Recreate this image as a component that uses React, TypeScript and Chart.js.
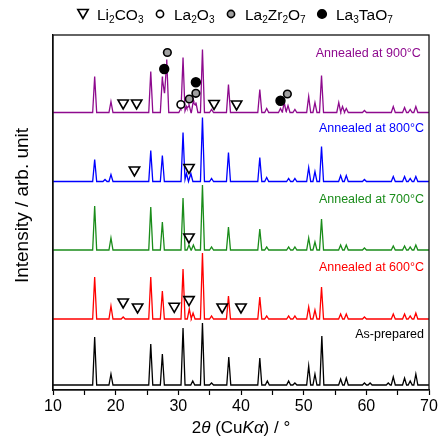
import React, { useEffect, useRef } from 'react';
import { Chart, registerables } from 'chart.js';

Chart.register(...registerables);

const FONT = '"Liberation Sans", Arial, Helvetica, sans-serif';

// ---- axis ----
const X_MIN = 10;
const X_MAX = 70;
const X_STEP_MINOR = 5;
const Y_MIN = 0;
const Y_MAX = 355;

// ---- series ----
const seriesNames = ['As-prepared', 'Annealed at 600°C', 'Annealed at 700°C', 'Annealed at 800°C', 'Annealed at 900°C'];
const seriesColors = ['#000000', '#ff0000', '#1a8c1a', '#0000ff', '#8e0a8e'];
const seriesOffsets = [5, 71, 140, 208.5, 277.5];

// peak lists: [2θ, intensity above baseline]
const peaksAsPrepared: [number, number][] = [
  [16.65, 48], [19.25, 11], [25.6, 41], [27.45, 31], [30.75, 57], [32.3, 4], [33.85, 62], [35.3, 2],
  [38.05, 28], [43.0, 27], [44.2, 4], [47.6, 4], [48.6, 2], [50.8, 19], [51.8, 11], [52.9, 49],
  [55.9, 6], [56.8, 7], [59.7, 2], [60.6, 2], [63.5, 2], [64.3, 8], [66.1, 7], [67.0, 4], [67.9, 11],
];
const peaks600: [number, number][] = [
  [16.65, 42], [19.25, 13], [21.2, 2], [25.6, 42], [27.45, 28], [30.75, 50], [31.75, 10], [32.35, 6],
  [33.85, 66], [35.3, 3], [38.0, 23], [43.0, 22], [44.1, 3], [47.6, 3], [48.6, 3], [50.8, 12],
  [51.8, 9], [52.85, 32], [55.9, 5], [56.8, 5], [59.7, 2], [64.3, 5], [66.1, 5], [67.0, 3], [67.9, 6],
];
const peaks700: [number, number][] = [
  [16.65, 44], [19.25, 12], [25.6, 43], [27.45, 28], [30.75, 52], [31.7, 5], [32.4, 5], [33.85, 65],
  [35.3, 3], [38.0, 23], [43.0, 21], [44.1, 3], [47.6, 3], [48.6, 3], [50.8, 12], [51.8, 8],
  [52.85, 31], [55.9, 5], [56.8, 5], [59.7, 2], [64.3, 4], [66.1, 4], [67.0, 3], [67.9, 5],
];
const peaks800: [number, number][] = [
  [16.65, 22], [18.3, 2], [19.25, 7], [25.6, 31], [27.45, 26], [30.75, 49], [31.3, 8], [32.0, 8],
  [33.85, 64], [35.3, 3], [38.0, 29], [43.0, 24], [44.1, 4], [47.6, 3], [48.6, 3], [50.8, 14],
  [51.8, 10], [52.85, 35], [55.9, 6], [56.8, 6], [59.7, 2], [64.3, 5], [66.1, 5], [67.0, 3], [67.9, 5],
];
const peaks900: [number, number][] = [
  [16.65, 36], [19.25, 11], [25.6, 41], [27.45, 36], [27.8, 22], [28.15, 53], [30.4, 4], [30.75, 55],
  [31.3, 6], [31.7, 8], [32.4, 12], [32.8, 10], [33.85, 63], [35.3, 3], [38.0, 28], [43.0, 23],
  [44.1, 4], [46.3, 4], [46.9, 10], [47.5, 7], [48.6, 3], [50.8, 16], [51.8, 10], [52.85, 37],
  [55.6, 10], [56.2, 6], [56.8, 4], [59.7, 2], [64.3, 6], [66.1, 5], [67.0, 3], [67.9, 6],
];
const seriesPeaks = [peaksAsPrepared, peaks600, peaks700, peaks800, peaks900];
const PEAK_HALF_WIDTH = 0.32;

// ---- phase markers: [2θ, y] ----
const li2co3Markers: [number, number][] = [
  [21.2, 287], [23.35, 287], [35.7, 286.5], [39.3, 286],
  [23.0, 220], [31.7, 222.5],
  [31.7, 153],
  [21.2, 88], [23.5, 83], [29.35, 83.7], [31.7, 90.4], [37.0, 83], [40.0, 83],
];
const la2o3Markers: [number, number][] = [[30.4, 285.5]];
const la2zr2o7Markers: [number, number][] = [[28.25, 337.5], [31.75, 291], [32.8, 296.7], [47.4, 296]];
const la3tao7Markers: [number, number][] = [[27.75, 321], [32.8, 307.7], [46.3, 289.3]];

// ---- labels ----
const seriesLabelX = [69.2, 69.2, 69.2, 69.2, 68.7];
const seriesLabelY = [55, 122, 190, 261, 336];
const legendItems = [
  { kind: 'tri', text: [['Li', 0], ['2', 1], ['CO', 0], ['3', 1]] },
  { kind: 'open', text: [['La', 0], ['2', 1], ['O', 0], ['3', 1]] },
  { kind: 'gray', text: [['La', 0], ['2', 1], ['Zr', 0], ['2', 1], ['O', 0], ['7', 1]] },
  { kind: 'black', text: [['La', 0], ['3', 1], ['TaO', 0], ['7', 1]] },
];
const legendMarkerX = [83, 160, 231, 322];
const xTitle: [string, boolean][] = [['2', false], ['θ', true], [' (Cu', false], ['K', true], ['α', true], [') / °', false]];
const yTitle = 'Intensity / arb. unit';

function buildCurve(peaks: [number, number][], offset: number) {
  const xs = new Set<number>([X_MIN, X_MAX]);
  peaks.forEach(([p]) => { xs.add(p - PEAK_HALF_WIDTH); xs.add(p); xs.add(p + PEAK_HALF_WIDTH); });
  const sorted = Array.from(xs).sort((a, b) => a - b);
  return sorted.map((x) => {
    let y = 0;
    peaks.forEach(([p, h]) => {
      const d = Math.abs(x - p);
      if (d < PEAK_HALF_WIDTH) y += h * (1 - d / PEAK_HALF_WIDTH);
    });
    return { x, y: y + offset };
  });
}

const toPts = (arr: [number, number][]) => arr.map(([x, y]) => ({ x, y }));

function drawSegs(ctx: CanvasRenderingContext2D, segs: any[], x: number, y: number, size: number) {
  let cx = x;
  segs.forEach(([t, sub]) => {
    const s = sub ? size * 0.65 : size;
    ctx.font = `${s}px ${FONT}`;
    ctx.textBaseline = 'alphabetic';
    ctx.fillText(t, cx, sub ? y + size * 0.22 : y);
    cx += ctx.measureText(t).width;
  });
}

const overlay = {
  id: 'overlay',
  afterDraw(chart: any) {
    const ctx: CanvasRenderingContext2D = chart.ctx;
    const { left, right, top, bottom } = chart.chartArea;
    const xs = chart.scales.x;
    const ys = chart.scales.y;
    ctx.save();
    // frame
    ctx.strokeStyle = '#111';
    ctx.lineWidth = 1.3;
    ctx.strokeRect(left, top, right - left, bottom - top);
    // series labels
    ctx.font = `12.5px ${FONT}`;
    ctx.textAlign = 'right';
    ctx.textBaseline = 'middle';
    seriesNames.forEach((n, i) => {
      ctx.fillStyle = seriesColors[i];
      ctx.fillText(n, xs.getPixelForValue(seriesLabelX[i]), ys.getPixelForValue(seriesLabelY[i]));
    });
    // legend
    const ly = 14;
    ctx.textAlign = 'left';
    ctx.fillStyle = '#000';
    legendItems.forEach((it, i) => {
      const mx = legendMarkerX[i];
      ctx.lineWidth = 1.6;
      ctx.strokeStyle = '#000';
      if (it.kind === 'tri') {
        const r = 6;
        ctx.beginPath();
        ctx.moveTo(mx, ly + r * 0.75);
        ctx.lineTo(mx - r * 0.866, ly - r * 0.75);
        ctx.lineTo(mx + r * 0.866, ly - r * 0.75);
        ctx.closePath();
        ctx.fillStyle = '#fff';
        ctx.fill();
        ctx.stroke();
      } else {
        ctx.beginPath();
        ctx.arc(mx, ly, it.kind === 'black' ? 4.3 : 3.6, 0, Math.PI * 2);
        ctx.fillStyle = it.kind === 'open' ? '#fff' : it.kind === 'gray' ? '#a0a0a0' : '#000';
        ctx.fill();
        ctx.stroke();
      }
      ctx.fillStyle = '#000';
      drawSegs(ctx, it.text, mx + 14, ly + 5.5, 15.5);
    });
    // x title
    let total = 0;
    xTitle.forEach(([t, it]) => {
      ctx.font = `${it ? 'italic ' : ''}17px ${FONT}`;
      total += ctx.measureText(t).width;
    });
    let cx = (left + right) / 2 - total / 2;
    ctx.textBaseline = 'middle';
    ctx.fillStyle = '#000';
    xTitle.forEach(([t, it]) => {
      ctx.font = `${it ? 'italic ' : ''}17px ${FONT}`;
      ctx.fillText(t, cx, 428);
      cx += ctx.measureText(t).width;
    });
    // y title
    ctx.translate(23, (top + bottom) / 2 - 7);
    ctx.rotate(-Math.PI / 2);
    ctx.textAlign = 'center';
    ctx.font = `19px ${FONT}`;
    ctx.fillText(yTitle, 0, 0);
    ctx.restore();
  },
};

export default function App() {
  const ref = useRef<HTMLCanvasElement>(null);
  useEffect(() => {
    const lineSets = seriesPeaks.map((p, i) => ({
      type: 'line' as const,
      label: seriesNames[i],
      data: buildCurve(p, seriesOffsets[i]),
      borderColor: seriesColors[i],
      borderWidth: 1.3,
      pointRadius: 0,
      fill: false,
      tension: 0,
      order: 2,
    }));
    const mk = (data: [number, number][], style: string, bg: string, r: number, rot = 0) => ({
      type: 'line' as const,
      data: toPts(data),
      showLine: false,
      pointStyle: style,
      rotation: rot,
      pointRadius: r,
      pointBackgroundColor: bg,
      pointBorderColor: '#000',
      pointBorderWidth: 1.6,
      order: 1,
    });
    const chart = new Chart(ref.current!, {
      type: 'line',
      data: {
        datasets: [
          ...lineSets,
          mk(li2co3Markers, 'triangle', '#fff', 6, 180),
          mk(la2o3Markers, 'circle', '#fff', 3.8),
          mk(la2zr2o7Markers, 'circle', '#a0a0a0', 3.8),
          mk(la3tao7Markers, 'circle', '#000', 4.4),
        ] as any,
      },
      options: {
        responsive: false,
        animation: false,
        layout: { padding: { top: 35, right: 13, left: 0, bottom: 0 } },
        plugins: { legend: { display: false }, tooltip: { enabled: false } },
        scales: {
          x: {
            type: 'linear',
            min: X_MIN,
            max: X_MAX,
            afterFit: (s: any) => { s.height = 52; },
            ticks: {
              stepSize: X_STEP_MINOR,
              autoSkip: false,
              maxRotation: 0,
              padding: 2,
              color: '#000',
              font: { family: FONT, size: 16 },
              callback: (v: any) => (Number(v) % 10 === 0 ? String(v) : ''),
            },
            grid: { display: true, drawOnChartArea: false, drawTicks: true, tickLength: 5, tickColor: '#000', tickWidth: 1.2 },
            border: { display: true, color: '#000', width: 1.3 },
          },
          y: {
            type: 'linear',
            min: Y_MIN,
            max: Y_MAX,
            afterFit: (s: any) => { s.width = 53; },
            ticks: { display: false },
            grid: { display: false },
            border: { display: true, color: '#000', width: 1.3 },
          },
        },
      } as any,
      plugins: [overlay],
    });
    return () => chart.destroy();
  }, []);
  return (
    <div style={{ position: 'absolute', left: 0, top: 0, width: 442, height: 442, background: '#fff' }}>
      <canvas ref={ref} width={442} height={442} style={{ display: 'block' }} />
    </div>
  );
}
